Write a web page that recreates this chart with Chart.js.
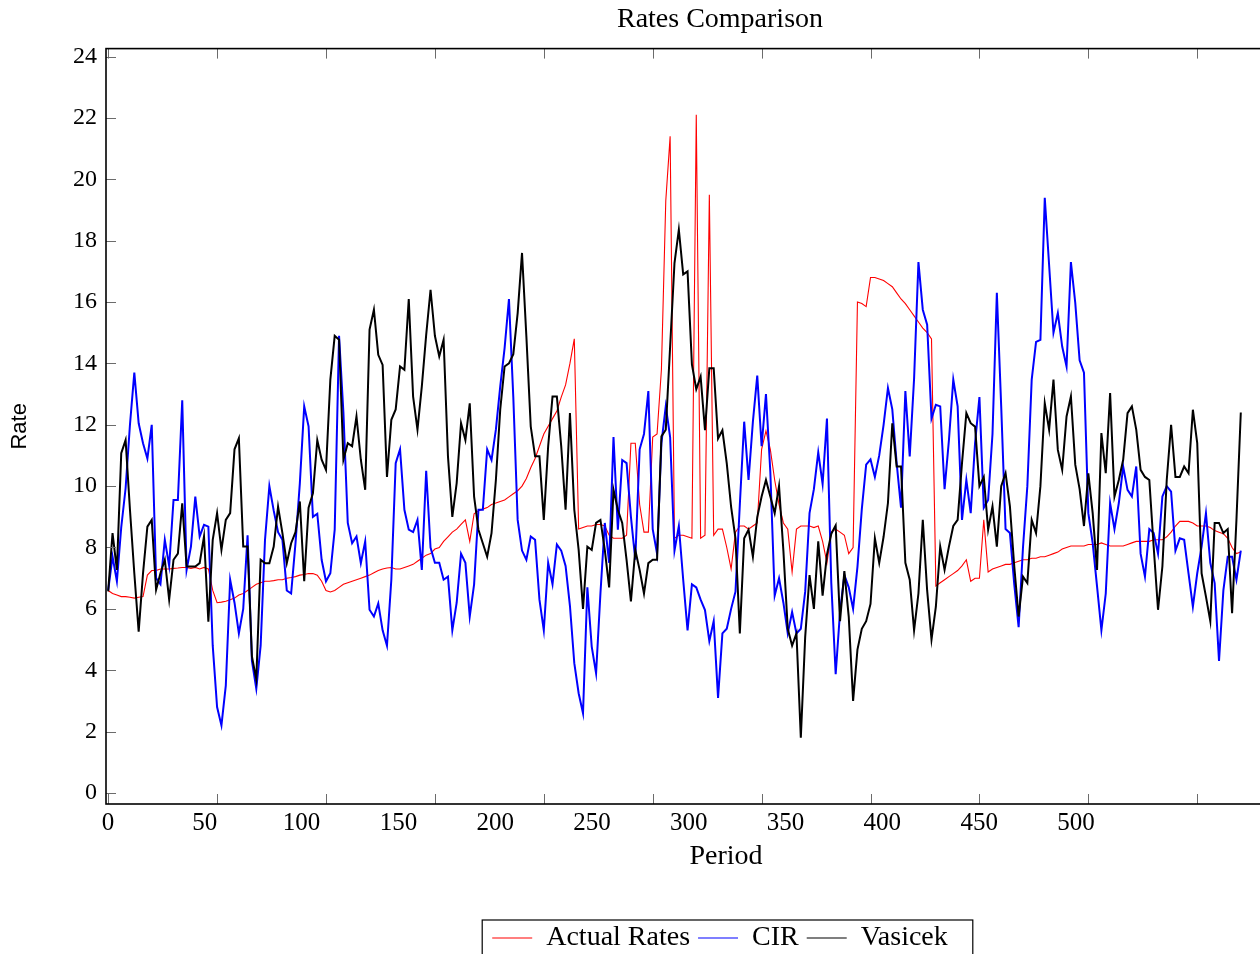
<!DOCTYPE html>
<html>
<head>
<meta charset="utf-8">
<title>Rates Comparison</title>
<script src="https://cdn.jsdelivr.net/npm/chart.js@4.4.1/dist/chart.umd.min.js"></script>
<style>
  html, body { margin: 0; padding: 0; overflow: hidden; background: #fff; }
  #wrap { width: 1440px; height: 1000px; }
</style>
</head>
<body>
<div id="wrap"><canvas id="ratesChart" width="1440" height="1000"></canvas></div>
<script>
// period of each reading (every second period)
const periods = [
  0, 2, 4, 6, 8, 10, 12, 14, 16, 18, 20, 22, 24, 26, 28, 30, 32, 34, 36, 38,
  40, 42, 44, 46, 48, 50, 52, 54, 56, 58, 60, 62, 64, 66, 68, 70, 72, 74, 76, 78,
  80, 82, 84, 86, 88, 90, 92, 94, 96, 98, 100, 102, 104, 106, 108, 110, 112, 114, 116, 118,
  120, 122, 124, 126, 128, 130, 132, 134, 136, 138, 140, 142, 144, 146, 148, 150, 152, 154, 156, 158,
  160, 162, 164, 166, 168, 170, 172, 174, 176, 178, 180, 182, 184, 186, 188, 190, 192, 194, 196, 198,
  200, 202, 204, 206, 208, 210, 212, 214, 216, 218, 220, 222, 224, 226, 228, 230, 232, 234, 236, 238,
  240, 242, 244, 246, 248, 250, 252, 254, 256, 258, 260, 262, 264, 266, 268, 270, 272, 274, 276, 278,
  280, 282, 284, 286, 288, 290, 292, 294, 296, 298, 300, 302, 304, 306, 308, 310, 312, 314, 316, 318,
  320, 322, 324, 326, 328, 330, 332, 334, 336, 338, 340, 342, 344, 346, 348, 350, 352, 354, 356, 358,
  360, 362, 364, 366, 368, 370, 372, 374, 376, 378, 380, 382, 384, 386, 388, 390, 392, 394, 396, 398,
  400, 402, 404, 406, 408, 410, 412, 414, 416, 418, 420, 422, 424, 426, 428, 430, 432, 434, 436, 438,
  440, 442, 444, 446, 448, 450, 452, 454, 456, 458, 460, 462, 464, 466, 468, 470, 472, 474, 476, 478,
  480, 482, 484, 486, 488, 490, 492, 494, 496, 498, 500, 502, 504, 506, 508, 510, 512, 514, 516, 518,
  520
];

const actualRates = [
  6.6, 6.5, 6.45, 6.4, 6.4, 6.38, 6.35, 6.38, 6.4, 7.1,
  7.25, 7.25, 7.3, 7.3, 7.3, 7.32, 7.33, 7.35, 7.35, 7.32,
  7.35, 7.3, 7.35, 7.3, 6.6, 6.2, 6.22, 6.25, 6.3, 6.35,
  6.45, 6.5, 6.6, 6.7, 6.8, 6.85, 6.9, 6.9, 6.92, 6.95,
  6.95, 7.0, 7.02, 7.05, 7.1, 7.12, 7.15, 7.15, 7.1, 6.9,
  6.6, 6.55, 6.6, 6.7, 6.8, 6.85, 6.9, 6.95, 7.0, 7.05,
  7.1, 7.18, 7.25, 7.3, 7.33, 7.35, 7.3, 7.3, 7.35, 7.4,
  7.45, 7.55, 7.65, 7.75, 7.8, 7.95, 8.0, 8.2, 8.35, 8.5,
  8.6, 8.75, 8.9, 8.2, 9.1, 9.2, 9.25, 9.3, 9.4, 9.45,
  9.5, 9.55, 9.65, 9.75, 9.85, 10.0, 10.25, 10.6, 10.9, 11.3,
  11.7, 11.95, 12.2, 12.45, 12.9, 13.3, 14.0, 14.8, 8.6, 8.65,
  8.7, 8.7, 8.75, 8.75, 8.7, 8.4, 8.3, 8.3, 8.3, 8.4,
  11.4, 11.4, 9.4, 8.5, 8.5, 11.6, 11.7, 13.8, 19.3, 21.4,
  8.3, 8.4, 8.4, 8.35, 8.3, 22.1, 8.3, 8.4, 19.5, 8.4,
  8.6, 8.6, 8.0, 7.3, 8.5, 8.7, 8.7, 8.6, 8.7, 8.8,
  11.2, 11.8, 11.2, 10.2, 9.4, 8.8, 8.6, 7.2, 8.6, 8.7,
  8.7, 8.7, 8.65, 8.7, 8.2, 7.5, 8.5, 8.6, 8.5, 8.4,
  7.8, 8.0, 16.0, 15.95, 15.85, 16.8, 16.8, 16.75, 16.7, 16.6,
  16.5, 16.3, 16.1, 15.95, 15.75, 15.55, 15.35, 15.15, 15.0, 14.8,
  6.75, 6.85, 6.95, 7.05, 7.15, 7.25, 7.4, 7.6, 6.9, 7.0,
  7.0, 8.9, 7.2, 7.3, 7.35, 7.4, 7.45, 7.45, 7.5, 7.55,
  7.6, 7.6, 7.65, 7.65, 7.7, 7.7, 7.75, 7.8, 7.85, 7.95,
  8.0, 8.05, 8.05, 8.05, 8.05, 8.1, 8.1, 8.1, 8.15, 8.1,
  8.05, 8.05, 8.05, 8.05, 8.1, 8.15, 8.2, 8.2, 8.2, 8.2,
  8.25, 8.25, 8.25, 8.35, 8.5, 8.7, 8.85, 8.85, 8.85, 8.8,
  8.7, 8.7, 8.7, 8.65, 8.55, 8.5, 8.45, 8.3, 8.0, 7.8,
  7.85
];

const cirRates = [
  6.6, 7.7, 6.9, 8.66, 9.93, 12.0, 13.7, 12.05, 11.4, 10.9,
  12.0, 7.0, 6.8, 8.25, 7.4, 9.55, 9.55, 12.8, 7.27, 8.03,
  9.66, 8.36, 8.74, 8.68, 4.8, 2.8, 2.2, 3.5, 6.95, 6.2,
  5.2, 6.0, 8.4, 4.3, 3.4, 4.8, 8.25, 10.0, 9.2, 8.5,
  8.25, 6.6, 6.5, 8.14, 10.1, 12.6, 11.95, 9.0, 9.1, 7.6,
  6.9, 7.16, 8.58, 14.9, 12.4, 8.8, 8.14, 8.36, 7.49, 8.2,
  5.97, 5.75, 6.18, 5.3, 4.8, 6.95, 10.75, 11.2, 9.23, 8.58,
  8.5, 8.9, 7.27, 10.5, 8.0, 7.5, 7.5, 6.95, 7.05, 5.3,
  6.2, 7.8, 7.5, 5.75, 6.8, 9.23, 9.23, 11.2, 10.85, 11.84,
  13.25, 14.5, 16.1, 12.9, 8.9, 7.9, 7.6, 8.36, 8.25, 6.3,
  5.3, 7.5, 6.8, 8.1, 7.9, 7.4, 6.1, 4.23, 3.25, 2.6,
  6.7, 4.77, 3.9, 6.5, 8.8, 7.5, 11.6, 8.58, 10.85, 10.75,
  9.0, 7.6, 11.2, 11.7, 13.1, 8.6, 7.8, 11.4, 12.6, 11.6,
  7.9, 8.7, 6.95, 5.3, 6.8, 6.7, 6.3, 5.96, 4.95, 5.6,
  3.1, 5.2, 5.35, 6.0, 6.56, 9.4, 12.1, 10.2, 12.1, 13.6,
  11.3, 13.0, 10.47, 6.43, 7.0, 6.2, 5.2, 5.9, 5.2, 5.35,
  6.56, 9.12, 9.9, 11.1, 10.07, 12.2, 6.83, 3.87, 5.9, 7.1,
  6.7, 6.0, 7.37, 9.25, 10.7, 10.87, 10.3, 11.0, 12.0, 13.2,
  12.5, 10.75, 9.3, 13.1, 10.97, 13.5, 17.3, 15.75, 15.26, 12.2,
  12.65, 12.6, 9.9, 11.5, 13.47, 12.6, 8.9, 10.2, 9.12, 11.4,
  12.9, 9.3, 9.55, 11.7, 16.3, 12.6, 8.6, 8.47, 6.8, 5.4,
  8.0, 10.0, 13.47, 14.7, 14.77, 19.4, 17.2, 15.0, 15.64, 14.55,
  13.9, 17.3, 15.97, 14.1, 13.7, 9.12, 8.14, 6.73, 5.3, 6.5,
  9.45, 8.6, 9.45, 10.64, 9.88, 9.66, 10.64, 7.8, 7.05, 8.6,
  8.47, 7.8, 9.66, 10.0, 9.82, 7.9, 8.3, 8.25, 7.16, 6.07,
  7.16, 8.03, 9.12, 7.5, 6.84, 4.3, 6.6, 7.7, 7.7, 6.95,
  7.9
];

const vasicekRates = [
  6.57, 8.47, 7.27, 11.07, 11.5, 9.23, 7.16, 5.26, 7.16, 8.68,
  8.9, 6.62, 7.16, 7.6, 6.3, 7.6, 7.8, 9.44, 7.38, 7.38,
  7.38, 7.49, 8.36, 5.58, 8.25, 9.12, 7.92, 8.9, 9.12, 11.2,
  11.56, 8.03, 8.03, 4.45, 3.7, 7.6, 7.49, 7.49, 8.03, 9.33,
  8.47, 7.49, 8.14, 8.5, 9.5, 6.9, 9.3, 9.77, 11.5, 10.86,
  10.53, 13.47, 14.9, 14.77, 10.86, 11.4, 11.3, 12.27, 10.86, 9.88,
  15.1, 15.75, 14.28, 13.95, 10.3, 12.16, 12.5, 13.9, 13.79, 16.1,
  12.92, 11.84, 13.25, 14.93, 16.4, 14.9, 14.23, 14.77, 10.97, 9.0,
  10.1, 12.05, 11.5, 12.7, 9.66, 8.58, 8.14, 7.7, 8.47, 10.2,
  12.5, 13.9, 14.0, 14.3, 15.64, 17.6, 14.88, 11.95, 10.97, 10.97,
  8.9, 11.3, 12.92, 12.92, 11.3, 9.23, 12.38, 9.23, 7.92, 6.0,
  8.03, 7.92, 8.8, 8.9, 7.92, 6.7, 9.88, 9.23, 8.8, 7.6,
  6.24, 7.92, 7.27, 6.5, 7.49, 7.6, 7.6, 11.62, 11.84, 14.55,
  17.27, 18.36, 16.9, 17.0, 13.97, 13.16, 13.57, 11.82, 13.84, 13.84,
  11.55, 11.82, 10.74, 9.32, 8.3, 5.2, 8.3, 8.58, 7.7, 8.99,
  9.66, 10.2, 9.66, 9.12, 10.0, 7.9, 5.35, 4.8, 5.2, 1.8,
  5.08, 7.1, 6.0, 8.2, 6.43, 7.77, 8.45, 8.72, 5.6, 7.23,
  5.75, 3.0, 4.67, 5.35, 5.6, 6.16, 8.3, 7.5, 8.35, 9.45,
  12.05, 10.64, 10.64, 7.5, 6.95, 5.3, 6.5, 8.9, 6.6, 5.0,
  6.07, 8.03, 7.27, 8.03, 8.7, 8.9, 10.75, 12.38, 12.05, 11.94,
  10.0, 10.3, 8.58, 9.34, 8.03, 10.0, 10.42, 9.34, 7.38, 5.75,
  7.05, 6.84, 8.9, 8.47, 10.0, 12.7, 11.84, 13.47, 11.18, 10.53,
  12.27, 12.92, 10.7, 9.9, 8.7, 10.42, 9.12, 7.27, 11.73, 10.42,
  13.03, 9.66, 10.2, 10.86, 12.38, 12.6, 11.84, 10.53, 10.3, 10.2,
  8.03, 5.97, 7.38, 10.2, 12.0, 10.3, 10.3, 10.64, 10.42, 12.49,
  11.4, 7.16, 6.4, 5.6, 8.8, 8.8, 8.47, 8.6, 5.86, 8.9,
  12.4
];

const periodLabels = [0, 50, 100, 150, 200, 250, 300, 350, 400, 450, 500];
const periodMarks = [0, 50, 100, 150, 200, 250, 300, 350, 400, 450, 500, 550];
const rateTicks = [0, 2, 4, 6, 8, 10, 12, 14, 16, 18, 20, 22, 24];

const serif = '"Liberation Serif", "DejaVu Serif", "Times New Roman", serif';
const sans = '"Liberation Sans", Arial, sans-serif';

function points(values) {
  return periods.map((p, i) => ({ x: p, y: values[i] }));
}

// box round the plot and small inward tick marks, like pgfplots
const frameAndTicks = {
  id: 'frameAndTicks',
  afterDatasetsDraw(chart) {
    const { ctx, chartArea: a, scales } = chart;
    ctx.save();
    ctx.strokeStyle = '#6b6b6b';
    ctx.lineWidth = 1;
    ctx.beginPath();
    periodMarks.forEach(v => {
      const px = Math.round(scales.x.getPixelForValue(v)) + 0.5;
      ctx.moveTo(px, a.top);
      ctx.lineTo(px, a.top + 10);
      ctx.moveTo(px, a.bottom);
      ctx.lineTo(px, a.bottom - 10);
    });
    rateTicks.forEach(v => {
      const py = Math.round(scales.y.getPixelForValue(v)) + 0.5;
      ctx.moveTo(a.left, py);
      ctx.lineTo(a.left + 10, py);
      ctx.moveTo(a.right, py);
      ctx.lineTo(a.right - 10, py);
    });
    ctx.stroke();
    ctx.strokeStyle = '#000';
    ctx.lineWidth = 1.6;
    ctx.strokeRect(a.left, a.top, a.right - a.left, a.bottom - a.top);
    ctx.restore();
  }
};

const legendFrame = {
  id: 'legendFrame',
  afterDraw(chart) {
    const boxes = chart.legend.legendHitBoxes;
    if (!boxes || !boxes.length) return;
    const first = boxes[0];
    const last = boxes[boxes.length - 1];
    const ctx = chart.ctx;
    ctx.save();
    ctx.strokeStyle = '#000';
    ctx.lineWidth = 1.2;
    ctx.strokeRect(first.left - 10, first.top - 4, last.left + last.width + 25 - (first.left - 10), 50);
    ctx.restore();
  }
};

Chart.defaults.color = '#000';

new Chart(document.getElementById('ratesChart'), {
  type: 'line',
  data: {
    datasets: [
      { label: 'Actual Rates', data: points(actualRates), borderColor: '#ff0000', borderWidth: 1.1, order: 3 },
      { label: 'CIR', data: points(cirRates), borderColor: '#0000ff', borderWidth: 2, order: 2 },
      { label: 'Vasicek', data: points(vasicekRates), borderColor: '#000000', borderWidth: 2, order: 1 }
    ]
  },
  options: {
    responsive: false,
    animation: false,
    events: [],
    layout: { padding: { left: 0, right: 0, top: 0, bottom: 38 } },
    elements: {
      point: { radius: 0 },
      line: { tension: 0, fill: false }
    },
    scales: {
      x: {
        type: 'linear',
        min: -1,
        max: 568.3,
        display: false
      },
      xl: {
        type: 'linear',
        position: 'bottom',
        min: -1.03,
        max: 639.5,
        afterBuildTicks: (axis) => { axis.ticks = periodLabels.map(v => ({ value: v })); },
        afterFit: (axis) => { axis.height = 112; },
        grid: { display: false, drawTicks: false },
        border: { display: false },
        ticks: {
          autoSkip: false,
          maxRotation: 0,
          padding: 4,
          font: { family: serif, size: 25 }
        },
        title: {
          display: true,
          text: 'Period',
          font: { family: serif, size: 28 },
          padding: { top: 0, bottom: 43 }
        }
      },
      y: {
        type: 'linear',
        min: -0.36,
        max: 24.26,
        afterBuildTicks: (axis) => { axis.ticks = rateTicks.map(v => ({ value: v })); },
        afterFit: (axis) => { axis.width = 106; },
        grid: { display: false, drawTicks: false },
        border: { display: false },
        ticks: {
          autoSkip: false,
          padding: 9,
          font: { family: serif, size: 24 }
        },
        title: {
          display: true,
          text: 'Rate',
          font: { family: sans, size: 22 },
          padding: { top: 7, bottom: 0 }
        }
      },
      // empty right-hand strip, keeps the plot the same width as the left margin
      yr: {
        type: 'linear',
        position: 'right',
        min: -0.36,
        max: 24.26,
        afterFit: (axis) => { axis.width = 94; },
        grid: { display: false, drawTicks: false },
        border: { display: false },
        ticks: { display: false }
      }
    },
    plugins: {
      title: {
        display: true,
        text: 'Rates Comparison',
        font: { family: serif, size: 28, weight: 'normal' },
        padding: { top: 3, bottom: 12 }
      },
      legend: {
        position: 'bottom',
        labels: {
          usePointStyle: true,
          pointStyle: 'line',
          pointStyleWidth: 40,
          padding: 8,
          font: { family: serif, size: 28 },
          generateLabels(chart) {
            const items = Chart.defaults.plugins.legend.labels.generateLabels(chart);
            items.forEach(item => { item.lineWidth = 1.2; });
            return items.sort((a, b) => a.datasetIndex - b.datasetIndex);
          }
        }
      },
      tooltip: { enabled: false }
    }
  },
  plugins: [frameAndTicks, legendFrame]
});
</script>
</body>
</html>
